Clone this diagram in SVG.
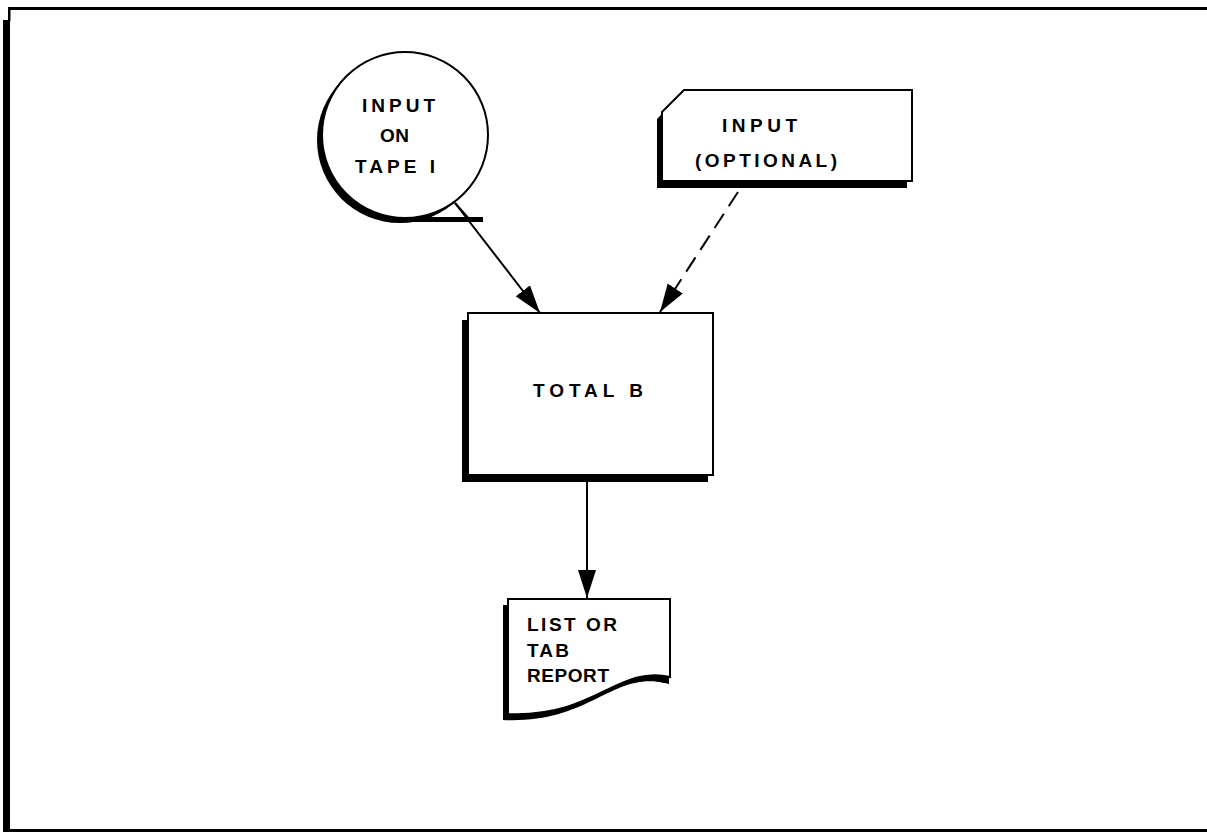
<svg xmlns="http://www.w3.org/2000/svg" width="1207" height="832" viewBox="0 0 1207 832">
<defs>
<style>
.lbl{font-family:"Liberation Sans",Arial,sans-serif;font-size:19px;font-weight:bold;fill:#000;}
.sh{fill:#000;stroke:none;}
.nd{fill:#fff;stroke:#000;stroke-width:2;}
.cn{fill:none;stroke:#000;stroke-width:2;}
</style>
<marker id="ah" markerUnits="userSpaceOnUse" markerWidth="30" markerHeight="20" refX="28" refY="9" orient="auto">
<path d="M0,0 L28,9 L0,18 Z" fill="#000"/>
</marker>
</defs>
<rect width="1207" height="832" fill="#fff"/>
<g id="frame">
<rect x="3" y="20" width="7" height="812" fill="#000"/>
<rect x="8" y="7" width="2.5" height="14" fill="#000"/>
<rect x="8" y="7" width="1199" height="3" fill="#000"/>
<rect x="3" y="829" width="1204" height="3" fill="#000"/>
</g>
<g id="connectors">
<line class="cn" x1="455" y1="203" x2="540" y2="313" marker-end="url(#ah)"/>
<line class="cn" x1="738" y1="192" x2="660" y2="312" stroke-dasharray="17 9" marker-end="url(#ah)"/>
<line class="cn" x1="587" y1="482" x2="587" y2="598" marker-end="url(#ah)"/>
</g>
<g id="tape">
<circle class="sh" cx="400" cy="140" r="83"/>
<rect x="400" y="217" width="83" height="5" fill="#000"/>
<circle class="nd" cx="405" cy="135" r="83"/>
<line class="cn" x1="455" y1="203" x2="470" y2="220"/>
<text class="lbl" x="362" y="112" textLength="73" lengthAdjust="spacing">INPUT</text>
<text class="lbl" x="380" y="142" textLength="29" lengthAdjust="spacing">ON</text>
<text class="lbl" x="355" y="173" textLength="80" lengthAdjust="spacing">TAPE I</text>
</g>
<g id="card">
<path class="sh" d="M657,119 L678,97 L907,97 L907,188 L657,188 Z"/>
<path class="nd" d="M662,112 L684,90 L912,90 L912,181 L662,181 Z"/>
<text class="lbl" x="722" y="132" textLength="75" lengthAdjust="spacing">INPUT</text>
<text class="lbl" x="695" y="167" textLength="142" lengthAdjust="spacing">(OPTIONAL)</text>
</g>
<g id="total">
<rect class="sh" x="462" y="320" width="246" height="162"/>
<rect class="nd" x="468" y="313" width="245" height="162"/>
<text class="lbl" x="533" y="397" textLength="110" lengthAdjust="spacing">TOTAL B</text>
</g>
<g id="report">
<path class="sh" d="M503,605 L665,605 L665,683 C612,671 590,724 503,720 Z"/>
<path class="sh" d="M612,676 C640,670 660,672 669,677 L669,684 C650,679 630,678 612,684 Z"/>
<path class="nd" d="M508,599 L670,599 L670,677 C617,665 595,718 508,714 Z"/>
<text class="lbl" x="527" y="631" textLength="90" lengthAdjust="spacing">LIST OR</text>
<text class="lbl" x="527" y="657" textLength="42" lengthAdjust="spacing">TAB</text>
<text class="lbl" x="527" y="682" textLength="82" lengthAdjust="spacing">REPORT</text>
</g>
</svg>
